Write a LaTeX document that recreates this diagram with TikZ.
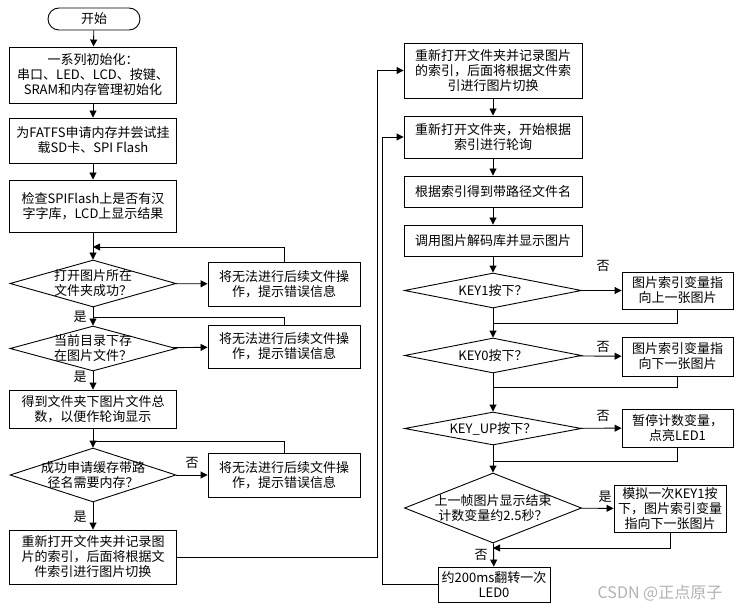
\documentclass[tikz,border=0pt]{standalone}
\usepackage{fontspec}
\setmainfont{Noto Sans CJK SC}
\usetikzlibrary{shapes.geometric,arrows.meta}

\begin{document}
\begin{tikzpicture}[x=1pt,y=-1pt,
  every node/.style={font=\fontsize{13}{15}\selectfont},
  box/.style={draw,line width=0.9pt,align=center,inner sep=0pt},
  lbox/.style={box,minimum width=167},
  rbox/.style={box,minimum width=178},
  sbox/.style={box,minimum width=111},
  term/.style={box,rounded corners=11pt,minimum width=92,minimum height=22},
  dia/.style={draw,diamond,line width=0.9pt,inner sep=0pt},
  arr/.style={-{Triangle[length=7pt,width=7pt]},line width=0.9pt},
  line/.style={line width=0.9pt},
  lbl/.style={inner sep=1pt}]
  \useasboundingbox (0,0) rectangle (744,612);

  % left column
  \node[term] (start) at (94,19) {开始};
  \node[lbox,minimum height=56] (init) at (93,75)
    {一系列初始化：\\串口、LED、LCD、按键、\\SRAM和内存管理初始化};
  \node[lbox,minimum height=45] (mount) at (93,140.5)
    {为FATFS申请内存并尝试挂\\载SD卡、SPI Flash};
  \node[lbox,minimum height=52] (font) at (93,206)
    {检查SPIFlash上是否有汉\\字字库，LCD上显示结果};
  \node[dia,minimum width=166,minimum height=47,
    label={[align=center]center:{打开图片所在\\文件夹成功？}}] (opendir) at (93,283.5) {};
  \node[box,minimum width=152,minimum height=44] (err1) at (284,284)
    {将无法进行后续文件操\\作，提示错误信息};
  \node[dia,minimum width=166,minimum height=45,
    label={[align=center]center:{当前目录下存\\在图片文件？}}] (hasimg) at (93,348.5) {};
  \node[box,minimum width=152,minimum height=43] (err2) at (284,346.5)
    {将无法进行后续文件操\\作，提示错误信息};
  \node[lbox,minimum height=38] (count) at (93,409)
    {得到文件夹下图片文件总\\数，以便作轮询显示};
  \node[dia,minimum width=166,minimum height=54,
    label={[align=center]center:{成功申请缓存带路\\径名需要内存？}}] (getmem) at (93,475) {};
  \node[box,minimum width=152,minimum height=44] (err3) at (284,475)
    {将无法进行后续文件操\\作，提示错误信息};
  \node[lbox,minimum height=54] (reopen) at (93,557)
    {重新打开文件夹并记录图\\片的索引，后面将根据文\\件索引进行图片切换};

  % right column
  \node[rbox,minimum height=55] (reopen2) at (493,70.5)
    {重新打开文件夹并记录图片\\的索引，后面将根据文件索\\引进行图片切换};
  \node[rbox,minimum height=42] (poll) at (493,137)
    {重新打开文件夹，开始根据\\索引进行轮询};
  \node[rbox,minimum height=31] (fname) at (493,191.5) {根据索引得到带路径文件名};
  \node[rbox,minimum height=31] (show) at (493,240.5) {调用图片解码库并显示图片};
  \node[dia,minimum width=177,minimum height=35,
    label={center:KEY1按下？}] (key1) at (493,290.5) {};
  \node[sbox,minimum height=37] (prev) at (677.5,290.5) {图片索引变量指\\向上一张图片};
  \node[dia,minimum width=177,minimum height=35,
    label={center:KEY0按下？}] (key0) at (493,355.5) {};
  \node[sbox,minimum height=39] (next) at (677.5,356.5) {图片索引变量指\\向下一张图片};
  \node[dia,minimum width=177,minimum height=33,
    label={center:KEY\_UP按下？}] (keyup) at (493,428.5) {};
  \node[sbox,minimum height=38] (pause) at (677.5,428) {暂停计数变量，\\点亮LED1};
  \node[dia,minimum width=177,minimum height=70,
    label={[align=center]center:{上一帧图片显示结束\\计数变量约2.5秒？}}] (timeout) at (493,508) {};
  \node[box,minimum width=112,minimum height=47] (sim) at (670,508.5)
    {模拟一次KEY1按\\下，图片索引变量\\指向下一张图片};
  \node[box,minimum width=112,minimum height=35] (led) at (494,584.5)
    {约200ms翻转一次\\LED0};

  \coordinate (j1) at (93,247);
  \coordinate (j2) at (93,317);
  \coordinate (j3) at (93,441);
  \coordinate (m1) at (493,323);
  \coordinate (m2) at (493,387);
  \coordinate (m3) at (493,461);
  \coordinate (m4) at (493,548);

  % left connectors
  \draw[arr] (start) -- (init);
  \draw[arr] (init) -- (mount);
  \draw[arr] (mount) -- (font);
  \draw[arr] (font) -- (opendir);
  \draw[arr] (opendir) -- (err1);
  \draw[arr] (err1.north) |- (j1);
  \draw[arr] (opendir) -- (hasimg);
  \draw[line] (err2.north) |- (j2);
  \draw[arr] (hasimg) -- (hasimg |- count.north);
  \draw[arr] (hasimg) -- (err2);
  \draw[arr] (count) -- (getmem);
  \draw[line] (err3.north) |- (j3);
  \draw[arr] (getmem) -- (err3);
  \draw[arr] (getmem) -- (reopen);
  \draw[arr] (reopen.east) -- ++(200,0) |- (reopen2.west);

  % right connectors
  \draw[arr] (reopen2) -- (poll);
  \draw[arr] (poll) -- (fname);
  \draw[arr] (fname) -- (show);
  \draw[arr] (show) -- (key1);
  \draw[arr] (key1) -- (prev);
  \draw[line] (prev.south) |- (m1);
  \draw[arr] (key1) -- (key0);
  \draw[arr] (key0) -- (next);
  \draw[line] (next.south) |- (m2);
  \draw[arr] (key0) -- (keyup);
  \draw[arr] (keyup) -- (pause);
  \draw[line] (pause.south) |- (m3);
  \draw[arr] (keyup) -- (timeout);
  \draw[arr] (timeout) -- (sim);
  \draw[arr] (sim.south) |- (m4);
  \draw[arr] (timeout) -- (led);
  \draw[arr] (led.west) -- ++(-55,0) |- (poll.west);

  % branch labels
  \node[lbl] (yes1) at (80,317) {是};
  \node[lbl] (yes2) at (80,377) {是};
  \node[lbl] (no3) at (192,463) {否};
  \node[lbl] (yes3) at (80,517) {是};
  \node[lbl] (no4) at (603,266) {否};
  \node[lbl] (no5) at (603,347) {否};
  \node[lbl] (no6) at (603,416) {否};
  \node[lbl] (yes7) at (605,497) {是};
  \node[lbl] (no7) at (481,555) {否};

  \node[text=black!30,font=\fontsize{16}{18}\selectfont] (mark) at (660,593) {CSDN @正点原子};
\end{tikzpicture}
\end{document}
